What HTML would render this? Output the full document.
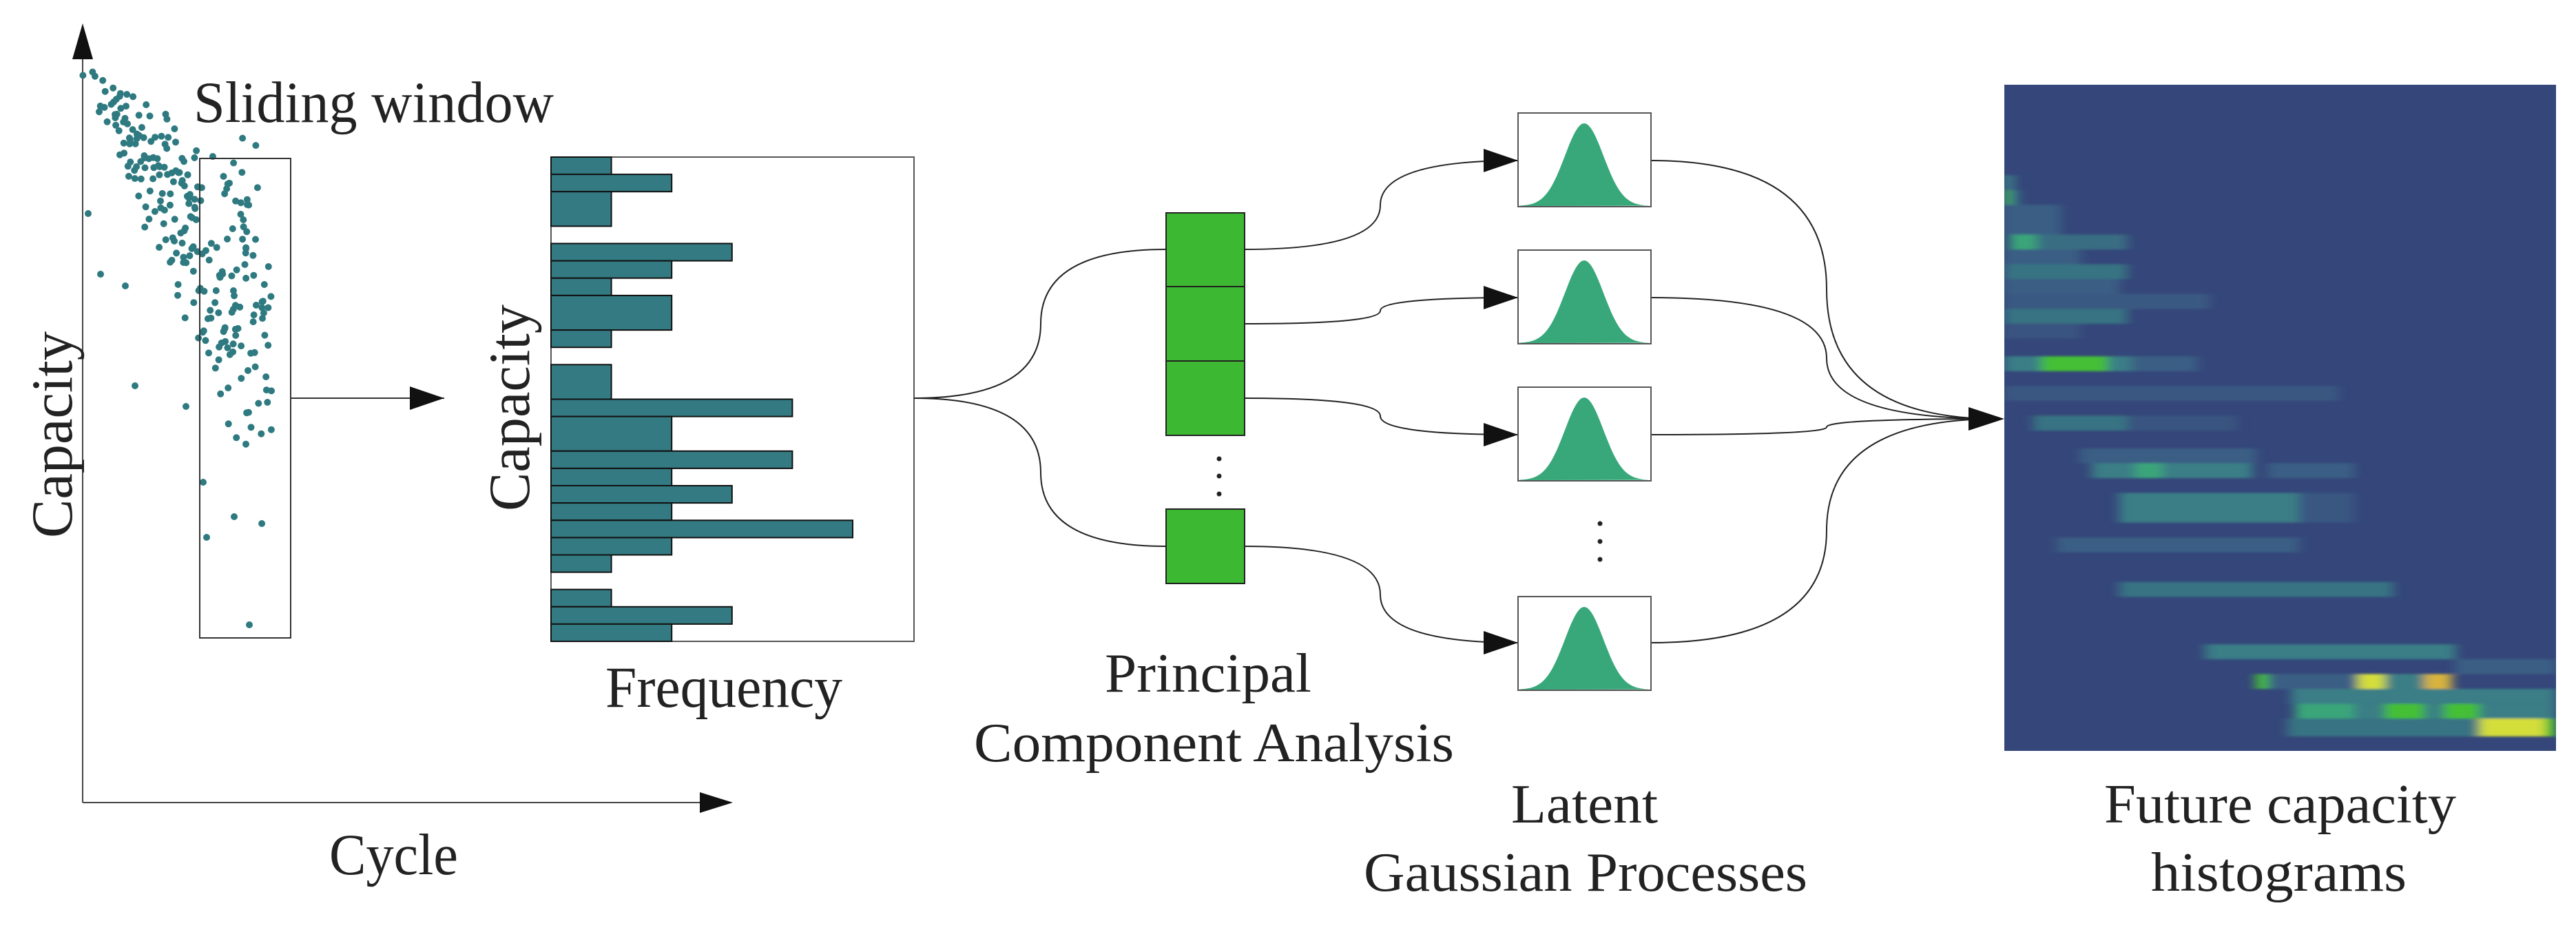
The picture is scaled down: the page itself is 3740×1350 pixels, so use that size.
<!DOCTYPE html>
<html><head><meta charset="utf-8"><style>
html,body{margin:0;padding:0;background:#fff;width:3740px;height:1350px;overflow:hidden}
svg{display:block}
text{font-family:"Liberation Serif",serif;fill:#222}
</style></head><body>
<svg id="s" width="3740" height="1350" viewBox="0 0 3740 1350" xmlns="http://www.w3.org/2000/svg">
<defs>
<marker id="ah" viewBox="0 0 50 34" refX="50" refY="17" markerWidth="50" markerHeight="34" markerUnits="userSpaceOnUse" orient="auto"><path d="M0,0 L50,17 L0,34 Z" fill="#111"/></marker>
<filter id="bl" x="-10%" y="-10%" width="120%" height="120%"><feGaussianBlur stdDeviation="8 1.5"/></filter>
<clipPath id="hc"><rect x="2910" y="123" width="801" height="967"/></clipPath>
</defs>

<line x1="120" y1="80" x2="120" y2="1165" stroke="#444" stroke-width="2"/>
<line x1="120" y1="1165" x2="1020" y2="1165" stroke="#444" stroke-width="2"/>
<path d="M120,34 L105,86 L135,86 Z" fill="#111"/>
<path d="M1064,1165 L1016,1150 L1016,1180 Z" fill="#111"/>
<g id="scatter" fill="#2e7a80"></g>
<rect x="290" y="230" width="132" height="696" fill="none" stroke="#333" stroke-width="2"/>
<line x1="422" y1="578" x2="645" y2="578" stroke="#333" stroke-width="2" marker-end="url(#ah)"/>

<text x="281" y="177" font-size="85" textLength="523" lengthAdjust="spacingAndGlyphs">Sliding window</text>
<text transform="translate(104,631) rotate(-90)" text-anchor="middle" font-size="85" textLength="300" lengthAdjust="spacingAndGlyphs">Capacity</text>
<text x="478" y="1269" font-size="85" textLength="187" lengthAdjust="spacingAndGlyphs">Cycle</text>

<rect x="800" y="228" width="527" height="703" fill="none" stroke="#555" stroke-width="2"/>
<g id="bars" fill="#347a82" stroke="#111" stroke-width="2"></g>
<text transform="translate(768,592) rotate(-90)" text-anchor="middle" font-size="85" textLength="300" lengthAdjust="spacingAndGlyphs">Capacity</text>
<text x="879" y="1026" font-size="85" textLength="344" lengthAdjust="spacingAndGlyphs">Frequency</text>

<g fill="none" stroke="#222" stroke-width="2">
<path d="M1327,578 Q1511,578 1511,470 Q1511,362 1693,362"/>
<path d="M1327,578 Q1511,578 1511,686 Q1511,793 1693,793"/>
</g>
<g fill="#3cb832" stroke="#222" stroke-width="2">
<rect x="1693" y="309" width="114" height="107"/>
<rect x="1693" y="416" width="114" height="108"/>
<rect x="1693" y="524" width="114" height="108"/>
<rect x="1693" y="739" width="114" height="108"/>
</g>
<g fill="#222"><circle cx="1770" cy="666" r="3.5"/><circle cx="1770" cy="691" r="3.5"/><circle cx="1770" cy="717" r="3.5"/>
<circle cx="2323" cy="760" r="3.5"/><circle cx="2323" cy="786" r="3.5"/><circle cx="2323" cy="812" r="3.5"/></g>

<g fill="none" stroke="#222" stroke-width="2" marker-end="url(#ah)">
<path d="M1807,362 Q2004,362 2004,298 Q2004,233 2204,233"/>
<path d="M1807,470 Q2004,470 2004,451 Q2004,432 2204,432"/>
<path d="M1807,578 Q2004,578 2004,604 Q2004,631 2204,631"/>
<path d="M1807,793 Q2004,793 2004,863 Q2004,933 2204,933"/>
</g>
<g fill="none" stroke="#222" stroke-width="2">
<path d="M2397,233 Q2652,233 2652,420 Q2652,608 2900,608"/>
<path d="M2397,432 Q2652,432 2652,520 Q2652,608 2900,608"/>
<path d="M2397,631 Q2652,631 2652,620 Q2652,608 2900,608"/>
<path d="M2397,933 Q2652,933 2652,770 Q2652,608 2900,608"/>
</g>
<path d="M2910,608 L2858,591 L2858,625 Z" fill="#111"/>

<g id="gauss"></g>

<text x="1604" y="1004" font-size="80" textLength="300" lengthAdjust="spacingAndGlyphs">Principal</text>
<text x="1414" y="1105" font-size="80" textLength="697" lengthAdjust="spacingAndGlyphs">Component Analysis</text>
<text x="2194" y="1194" font-size="80" textLength="213" lengthAdjust="spacingAndGlyphs">Latent</text>
<text x="1980" y="1293" font-size="80" textLength="644" lengthAdjust="spacingAndGlyphs">Gaussian Processes</text>
<text x="3055" y="1194" font-size="80" textLength="511" lengthAdjust="spacingAndGlyphs">Future capacity</text>
<text x="3123" y="1293" font-size="80" textLength="371" lengthAdjust="spacingAndGlyphs">histograms</text>

<rect x="2910" y="123" width="801" height="967" fill="#35477a"/>
<g clip-path="url(#hc)"><g id="heat" filter="url(#bl)"></g></g>
</svg>
<script>
var NS="http://www.w3.org/2000/svg";
function el(p,t,a){var e=document.createElementNS(NS,t);for(var k in a)e.setAttribute(k,a[k]);p.appendChild(e);return e;}
var slots=[1,2,1,1,0,3,2,1,2,2,1,0,1,1,4,2,2,4,2,3,2,5,2,1,0,1,3,2];
var bars=document.getElementById('bars');var rh=703/28,u=87.6;
var i=0;
while(i<slots.length){var w=slots[i];if(w==0){i++;continue;}
 var n=1;
 if((i==2)||(i==8)||(i==12)||(i==15)){n=2;}
 el(bars,'rect',{x:800,y:(228+i*rh).toFixed(1),width:(w*u).toFixed(1),height:(n*rh).toFixed(1)});i+=n;}
var seed=11;function r(){seed=(seed*16807)%2147483647;return seed/2147483647;}
function g(){return (r()+r()+r()-1.5)*1.4;}
var sc=document.getElementById('scatter');
for(var k=0;k<250;k++){var t=Math.pow(r(),0.75);var x=128+t*265+g()*8;var yc=115+(x-128)*1.45;var sp=30+(x-128)*1.0;var y=yc+g()*sp*0.6;
 if(y<100)y=100+r()*30;if(y>880)y=840-r()*150;if(x>395)x=395-r()*20;
 if(x>270&&y<200)y=200+r()*80;
 el(sc,'circle',{cx:x.toFixed(1),cy:y.toFixed(1),r:5});}
[[362,907],[182,415],[196,560],[270,590],[128,310],[146,398],[300,780],[340,750],[295,700]].forEach(function(p){el(sc,'circle',{cx:p[0],cy:p[1],r:5});});
var gg=document.getElementById('gauss');
[164,363,562,866].forEach(function(y0){
 el(gg,'rect',{x:2204,y:y0,width:193,height:136,fill:'#fff',stroke:'#555','stroke-width':2});
 var d='M2206,'+(y0+135);
 for(var j=0;j<=60;j++){var xx=2206+j*189/60;var z=(xx-2300)/28;var yy=y0+135-120*Math.exp(-z*z/2);d+=' L'+xx.toFixed(1)+','+yy.toFixed(1);}
 d+=' Z';el(gg,'path',{d:d,fill:'#38a87a'});
});
var H=document.getElementById('heat');
function st(x1,x2,y1,y2,c,o){el(H,'rect',{x:(2850+x1/1.762).toFixed(1),y:(y1/1.16).toFixed(1),width:((x2-x1)/1.762).toFixed(1),height:((y2-y1)/1.16).toFixed(1),fill:c,opacity:o||1});}
var T='#3a7e86',F='#3b5e84',G='#45bf35',M='#3aa57a',Y='#d4de3a',O='#d8b43c';
st(105,130,295,320,T);st(105,118,320,345,G);st(118,140,320,345,T);st(105,250,345,395,F);
st(120,190,395,420,M);st(190,420,395,420,T,.7);st(105,300,420,445,F);st(105,420,445,470,T,.8);
st(105,400,470,495,F);st(105,630,495,520,F,.8);st(105,420,520,545,T,.8);st(105,300,545,570,F,.6);
st(105,200,600,625,T);st(200,370,600,625,G);st(370,430,600,625,T);st(430,600,600,625,F);
st(105,960,650,675,F,.7);st(180,420,700,725,T,.8);st(420,700,700,725,F,.6);st(300,750,755,780,F);
st(330,740,780,805,T);st(440,510,780,805,M);st(780,1000,780,805,F);
st(400,860,830,880,T);st(860,1000,830,880,F,.7);st(240,860,905,930,F);st(400,1100,980,1005,T,.8);
st(620,1260,1085,1110,T);st(1260,1517,1110,1135,F);
st(750,780,1135,1160,G);st(780,1010,1135,1160,F);st(1010,1080,1135,1160,Y);st(1080,1180,1135,1160,T);st(1180,1250,1135,1160,O);
st(840,1517,1160,1185,T);
st(850,1000,1185,1210,M);st(1000,1080,1185,1210,T);st(1080,1180,1185,1210,G);st(1180,1230,1185,1210,T);st(1230,1320,1185,1210,G);st(1320,1517,1185,1210,T);
st(830,1320,1210,1240,T,.8);st(1320,1490,1210,1240,Y);st(1490,1517,1210,1240,G);
</script>
</body></html>
